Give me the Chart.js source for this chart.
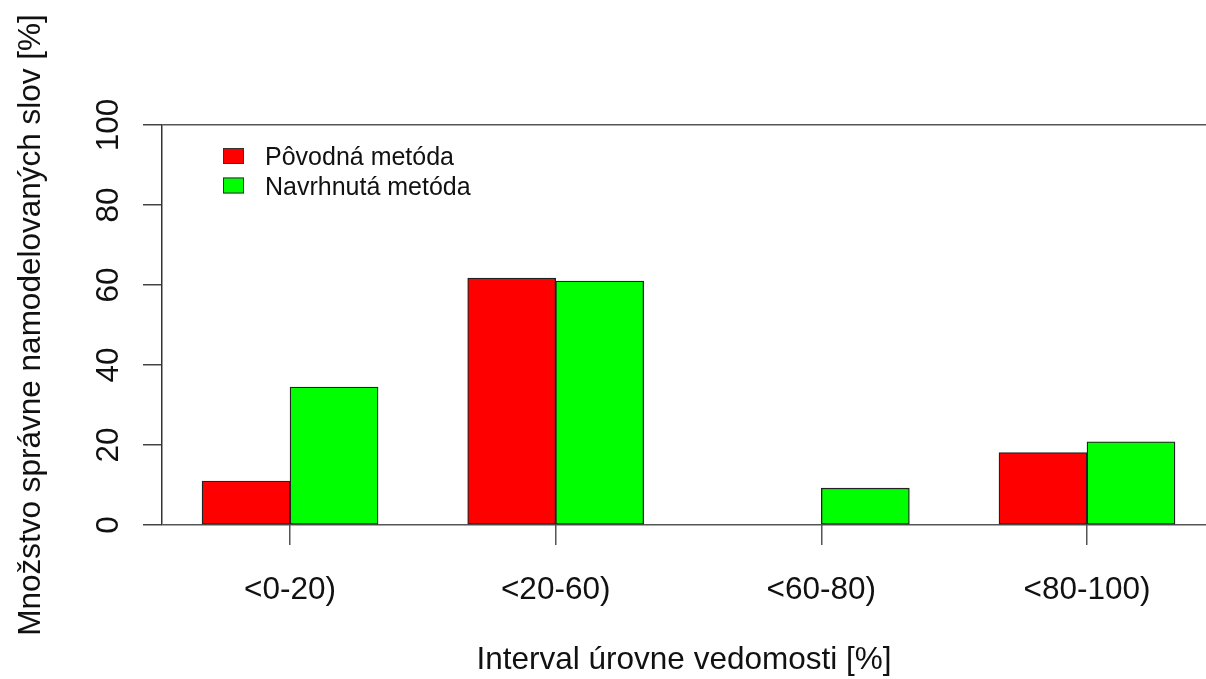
<!DOCTYPE html>
<html>
<head>
<meta charset="utf-8">
<script src="https://cdn.jsdelivr.net/npm/chart.js@4.4.1/dist/chart.umd.min.js"></script>
<style>
html, body { margin: 0; padding: 0; background: #fff; overflow: hidden; }
#wrap { width: 1206px; height: 679px; position: relative; }
</style>
</head>
<body>
<div id="wrap"><canvas id="myChart"></canvas></div>
<script>
// data
const categories = ["<0-20)", "<20-60)", "<60-80)", "<80-100)"];
const povodna = [11, 61.7, 0, 18.1];
const navrhnuta = [34.5, 61, 9.2, 20.8];
const seriesNames = ["Pôvodná metóda", "Navrhnutá metóda"];
const yTicks = [0, 20, 40, 60, 80, 100];

const FONT = "'Liberation Sans', Arial, sans-serif";

// rotated y labels + legend, R style
const rStuff = {
    id: "rStuff",
    afterDraw(chart) {
        const ctx = chart.ctx;
        const y = chart.scales.y;
        ctx.save();
        ctx.fillStyle = "#111";
        ctx.font = "31.5px " + FONT;
        ctx.textAlign = "center";
        ctx.textBaseline = "alphabetic";
        yTicks.forEach(v => {
            ctx.save();
            ctx.translate(118, y.getPixelForValue(v));
            ctx.rotate(-Math.PI / 2);
            ctx.fillText(String(v), 0, 0);
            ctx.restore();
        });
        // legend
        ctx.font = "25px " + FONT;
        ctx.textAlign = "left";
        chart.data.datasets.forEach((ds, i) => {
            const top = 148 + i * 29.5;
            ctx.fillStyle = ds.backgroundColor;
            ctx.fillRect(223, top, 21, 16);
            ctx.strokeStyle = "#333";
            ctx.lineWidth = 1;
            ctx.strokeRect(223.5, top + 0.5, 20, 15);
            ctx.fillStyle = "#111";
            ctx.fillText(ds.label, 265, top + 17);
        });
        ctx.restore();
    }
};

const ctx = document.getElementById("myChart").getContext("2d");
const myChart = new Chart(ctx, {
    type: "bar",
    data: {
        datasets: [
            {
                label: seriesNames[0],
                data: povodna.map((v, i) => ({ x: i + 1, y: v })),
                backgroundColor: "#ff0000",
            },
            {
                label: seriesNames[1],
                data: navrhnuta.map((v, i) => ({ x: i + 1, y: v })),
                backgroundColor: "#00ff00",
            },
        ],
    },
    options: {
        responsive: true,
        maintainAspectRatio: false,
        animation: false,
        layout: { padding: { top: 125, right: 0, left: 0, bottom: 0 } },
        datasets: {
            bar: {
                barThickness: 88,
                borderWidth: 1.3,
                borderColor: "#222",
                borderSkipped: false,
            },
        },
        plugins: { legend: { display: false }, tooltip: { enabled: false } },
        scales: {
            x: {
                type: "linear",
                offset: false,
                bounds: "data",
                min: 0.518,
                max: 4.448,
                afterBuildTicks: (s) => { s.ticks = categories.map((c, i) => ({ value: i + 1 })); },
                afterFit: (s) => { s.height = 154; },
                ticks: {
                    callback: (v) => categories[v - 1],
                    font: { size: 31.5, family: FONT },
                    color: "#111",
                    padding: 26,
                    maxRotation: 0,
                    autoSkip: false,
                },
                grid: { offset: false, drawOnChartArea: false, drawTicks: true, tickLength: 20, tickColor: "#555", lineWidth: 1.5 },
                border: { display: false },
                title: {
                    display: true,
                    text: "Interval úrovne vedomosti [%]",
                    font: { size: 31.5, family: FONT },
                    color: "#111",
                    padding: { top: 0, bottom: 0 },
                },
            },
            y: {
                min: 0,
                max: 100,
                afterBuildTicks: (s) => { s.ticks = yTicks.map(v => ({ value: v })); },
                afterFit: (s) => { s.width = 162; },
                ticks: { display: false },
                grid: {
                    color: (c) => (c.tick && (c.tick.value === 0 || c.tick.value === 100)) ? "#555" : "rgba(0,0,0,0)",
                    tickColor: "#444",
                    tickLength: 19,
                    lineWidth: 1.5,
                },
                border: { display: true, color: "#333", width: 1.5 },
                title: {
                    display: true,
                    text: "Množstvo správne namodelovaných slov [%]",
                    font: { size: 31.5, family: FONT },
                    color: "#111",
                    padding: { top: 12, bottom: 0 },
                },
            },
        },
    },
    plugins: [rStuff],
});
</script>
</body>
</html>
